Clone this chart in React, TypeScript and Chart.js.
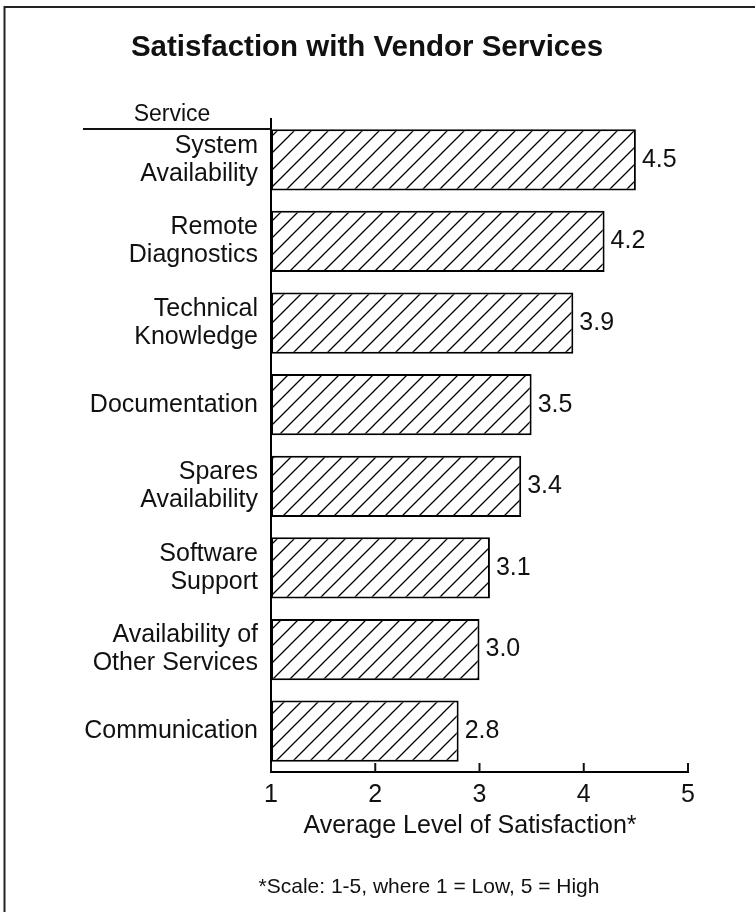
import React, { useEffect, useRef } from "react";
import { Chart, registerables } from "chart.js";

Chart.register(...registerables);

const categories: string[][] = [
  ["System", "Availability"],
  ["Remote", "Diagnostics"],
  ["Technical", "Knowledge"],
  ["Documentation"],
  ["Spares", "Availability"],
  ["Software", "Support"],
  ["Availability of", "Other Services"],
  ["Communication"],
];
const satisfaction: number[] = [4.5, 4.2, 3.9, 3.5, 3.4, 3.1, 3.0, 2.8];
const valueLabels: string[] = ["4.5", "4.2", "3.9", "3.5", "3.4", "3.1", "3.0", "2.8"];
const xTicks: number[] = [1, 2, 3, 4, 5];

const TITLE = "Satisfaction with Vendor Services";
const AXIS_HEADER = "Service";
const X_TITLE = "Average Level of Satisfaction*";
const FOOTNOTE = "*Scale: 1-5, where 1 = Low, 5 = High";

const FONT = "'Liberation Sans', Arial, Helvetica, sans-serif";

function makeHatch(): CanvasPattern | string {
  const s = 17;
  const c = document.createElement("canvas");
  c.width = s;
  c.height = s;
  const g = c.getContext("2d");
  if (!g) return "#fff";
  g.fillStyle = "#ffffff";
  g.fillRect(0, 0, s, s);
  g.strokeStyle = "#000";
  g.lineWidth = 1.3;
  g.beginPath();
  g.moveTo(-1, s + 1);
  g.lineTo(s + 1, -1);
  g.moveTo(-2, 2);
  g.lineTo(2, -2);
  g.moveTo(s - 2, s + 2);
  g.lineTo(s + 2, s - 2);
  g.stroke();
  const p = g.createPattern(c, "repeat");
  return p || "#fff";
}

export default function App() {
  const ref = useRef<HTMLCanvasElement | null>(null);

  useEffect(() => {
    document.body.style.margin = "0";
    const canvas = ref.current;
    if (!canvas) return;

    const decorations = {
      id: "decorations",
      beforeDraw(chart: any) {
        const ctx = chart.ctx;
        ctx.save();
        ctx.fillStyle = "#ffffff";
        ctx.fillRect(0, 0, chart.width, chart.height);
        ctx.restore();
      },
      afterDraw(chart: any) {
        const ctx = chart.ctx;
        const xs = chart.scales.x;
        const area = chart.chartArea;
        ctx.save();
        // frame
        ctx.strokeStyle = "#222";
        ctx.lineWidth = 2;
        ctx.beginPath();
        ctx.moveTo(4.5, chart.height);
        ctx.lineTo(4.5, 7);
        ctx.lineTo(chart.width, 7);
        ctx.stroke();

        // title
        ctx.fillStyle = "#111";
        ctx.textAlign = "center";
        ctx.textBaseline = "middle";
        ctx.font = `bold 29.5px ${FONT}`;
        ctx.fillText(TITLE, 367, 48);

        // Service header + line
        ctx.font = `23px ${FONT}`;
        ctx.fillText(AXIS_HEADER, 172, 115);
        ctx.lineWidth = 2;
        ctx.strokeStyle = "#111";
        ctx.beginPath();
        ctx.moveTo(83, area.top + 10);
        ctx.lineTo(area.left, area.top + 10);
        ctx.stroke();

        // tick marks (inward)
        ctx.lineWidth = 2;
        xTicks.forEach((v) => {
          const px = xs.getPixelForValue(v);
          ctx.beginPath();
          ctx.moveTo(px, area.bottom);
          ctx.lineTo(px, area.bottom - 9);
          ctx.stroke();
        });

        // value labels
        ctx.font = `25px ${FONT}`;
        ctx.textAlign = "left";
        ctx.textBaseline = "middle";
        const meta = chart.getDatasetMeta(0);
        meta.data.forEach((bar: any, i: number) => {
          ctx.fillText(valueLabels[i], bar.x + 6, bar.y);
        });

        // x title
        ctx.textAlign = "center";
        ctx.fillText(X_TITLE, 470, 826);

        // footnote
        ctx.font = `21px ${FONT}`;
        ctx.fillText(FOOTNOTE, 429, 887);
        ctx.restore();
      },
    };

    const chart = new Chart(canvas, {
      type: "bar",
      data: {
        labels: categories,
        datasets: [
          {
            data: satisfaction,
            base: 1,
            backgroundColor: makeHatch() as any,
            borderColor: "#000",
            borderWidth: 2,
            borderSkipped: false,
            barPercentage: 0.75,
            categoryPercentage: 1,
          } as any,
        ],
      },
      options: {
        indexAxis: "y",
        responsive: false,
        animation: false,
        devicePixelRatio: 1,
        layout: { padding: { top: 119, right: 67, bottom: 0, left: 0 } },
        plugins: {
          legend: { display: false },
          tooltip: { enabled: false },
          title: { display: false },
        },
        scales: {
          x: {
            type: "linear",
            min: 1,
            max: 5,
            afterFit(scale: any) {
              scale.height = 140;
            },
            afterBuildTicks(scale: any) {
              scale.ticks = xTicks.map((v) => ({ value: v }));
            },
            grid: { display: false, drawTicks: false },
            border: { display: true, color: "#000", width: 2 },
            ticks: {
              padding: 8,
              color: "#111",
              font: { family: FONT, size: 25 },
              callback: (v: any) => String(v),
            },
          },
          y: {
            type: "category",
            afterFit(scale: any) {
              scale.width = 271;
            },
            grid: { display: false, drawTicks: false },
            border: { display: true, color: "#000", width: 2 },
            ticks: {
              padding: 13,
              color: "#111",
              font: { family: FONT, size: 25, lineHeight: 1.12 },
              autoSkip: false,
            },
          },
        },
      },
      plugins: [decorations],
    } as any);

    return () => chart.destroy();
  }, []);

  return (
    <div style={{ width: 755, height: 912 }}>
      <canvas ref={ref} width={755} height={912} style={{ display: "block" }} />
    </div>
  );
}
